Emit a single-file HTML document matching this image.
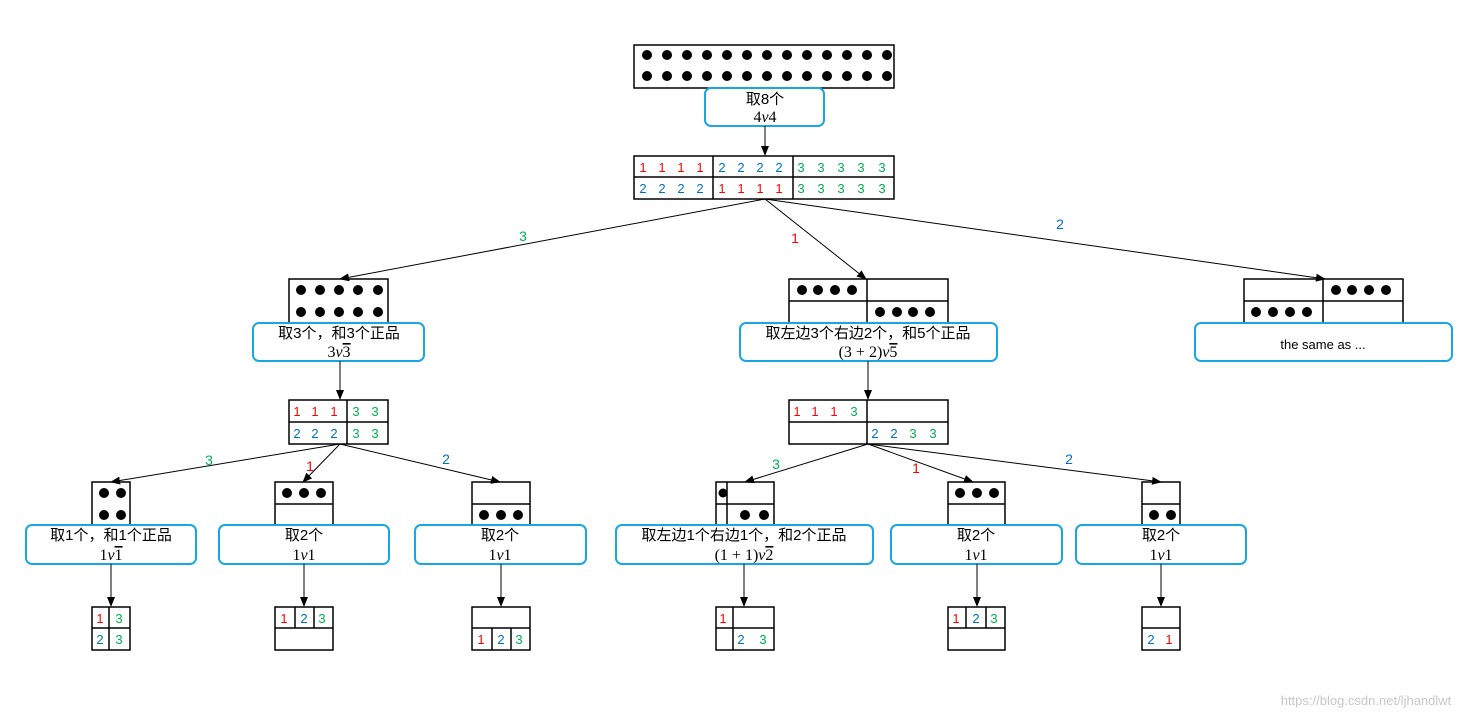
<!DOCTYPE html>
<html><head><meta charset="utf-8"><style>
html,body{margin:0;padding:0;background:#fff;}
svg{display:block;}
.t{font-family:"Liberation Sans","Noto Sans CJK SC",sans-serif;}
.m{font-family:"Liberation Serif","Noto Serif CJK SC",serif;}
.r{fill:#ff0000}.b{fill:#0070c0}.g{fill:#00b050}
</style></head><body>
<svg width="1474" height="718" viewBox="0 0 1474 718" xmlns="http://www.w3.org/2000/svg">
<defs><marker id="a" markerWidth="10" markerHeight="10" refX="9" refY="5" orient="auto" markerUnits="userSpaceOnUse"><path d="M0,1 L10,5 L0,9 z" fill="#000"/></marker></defs>
<rect width="1474" height="718" fill="#fff"/>
<g fill="none" stroke="#000" stroke-width="1.5">
<rect x="634" y="45" width="260" height="43"/>
<rect x="634" y="156" width="260" height="43"/><line x1="634" y1="177" x2="894" y2="177"/><line x1="713" y1="156" x2="713" y2="199"/><line x1="793" y1="156" x2="793" y2="199"/>
<rect x="289" y="279" width="99" height="44"/>
<rect x="789" y="279" width="159" height="44"/><line x1="789" y1="301" x2="948" y2="301"/><line x1="867" y1="279" x2="867" y2="323"/>
<rect x="1244" y="279" width="159" height="44"/><line x1="1244" y1="301" x2="1403" y2="301"/><line x1="1323" y1="279" x2="1323" y2="323"/>
<rect x="289" y="400" width="99" height="44"/><line x1="289" y1="422" x2="388" y2="422"/><line x1="347" y1="400" x2="347" y2="444"/>
<rect x="789" y="400" width="159" height="44"/><line x1="789" y1="422" x2="948" y2="422"/><line x1="867" y1="400" x2="867" y2="444"/>
<rect x="92" y="482" width="38" height="43"/>
<rect x="275" y="482" width="58" height="43"/><line x1="275" y1="504" x2="333" y2="504"/>
<rect x="472" y="482" width="58" height="43"/><line x1="472" y1="504" x2="530" y2="504"/>
<rect x="716" y="482" width="58" height="43"/><line x1="716" y1="504" x2="774" y2="504"/><line x1="727" y1="482" x2="727" y2="525"/>
<rect x="948" y="482" width="57" height="43"/><line x1="948" y1="504" x2="1005" y2="504"/>
<rect x="1142" y="482" width="38" height="43"/><line x1="1142" y1="504" x2="1180" y2="504"/>
<rect x="92" y="607" width="38" height="43"/><line x1="92" y1="628" x2="130" y2="628"/><line x1="109" y1="607" x2="109" y2="650"/>
<rect x="275" y="607" width="58" height="43"/><line x1="275" y1="628" x2="333" y2="628"/><line x1="295" y1="607" x2="295" y2="628"/><line x1="314" y1="607" x2="314" y2="628"/>
<rect x="472" y="607" width="58" height="43"/><line x1="472" y1="628" x2="530" y2="628"/><line x1="492" y1="628" x2="492" y2="650"/><line x1="511" y1="628" x2="511" y2="650"/>
<rect x="716" y="607" width="58" height="43"/><line x1="716" y1="628" x2="774" y2="628"/><line x1="733" y1="607" x2="733" y2="650"/>
<rect x="948" y="607" width="57" height="43"/><line x1="948" y1="628" x2="1005" y2="628"/><line x1="966" y1="607" x2="966" y2="628"/><line x1="986" y1="607" x2="986" y2="628"/>
<rect x="1142" y="607" width="38" height="43"/><line x1="1142" y1="628" x2="1180" y2="628"/>
</g>
<g fill="#fff" stroke="#1aa7e0" stroke-width="2">
<rect x="705" y="88" width="119" height="38" rx="6"/>
<rect x="253" y="323" width="171" height="38" rx="6"/>
<rect x="740" y="323" width="257" height="38" rx="6"/>
<rect x="1195" y="323" width="257" height="38" rx="6"/>
<rect x="26" y="525" width="170" height="39" rx="6"/>
<rect x="219" y="525" width="170" height="39" rx="6"/>
<rect x="415" y="525" width="171" height="39" rx="6"/>
<rect x="616" y="525" width="257" height="39" rx="6"/>
<rect x="891" y="525" width="171" height="39" rx="6"/>
<rect x="1076" y="525" width="170" height="39" rx="6"/>
</g>
<g stroke="#000" stroke-width="1" marker-end="url(#a)">
<line x1="765" y1="126" x2="765" y2="155"/>
<line x1="765" y1="199" x2="340" y2="279"/>
<line x1="765" y1="199" x2="866" y2="279"/>
<line x1="765" y1="199" x2="1325" y2="279"/>
<line x1="340" y1="361" x2="340" y2="399"/>
<line x1="868" y1="361" x2="868" y2="399"/>
<line x1="340" y1="444" x2="111" y2="482"/>
<line x1="340" y1="444" x2="303" y2="482"/>
<line x1="340" y1="444" x2="500" y2="482"/>
<line x1="868" y1="444" x2="745" y2="482"/>
<line x1="868" y1="444" x2="973" y2="482"/>
<line x1="868" y1="444" x2="1161" y2="482"/>
<line x1="111" y1="564" x2="111" y2="606"/>
<line x1="304" y1="564" x2="304" y2="606"/>
<line x1="501" y1="564" x2="501" y2="606"/>
<line x1="744" y1="564" x2="744" y2="606"/>
<line x1="977" y1="564" x2="977" y2="606"/>
<line x1="1161" y1="564" x2="1161" y2="606"/>
</g>
<g fill="#000">
<circle cx="647" cy="55" r="5"/><circle cx="667" cy="55" r="5"/><circle cx="687" cy="55" r="5"/><circle cx="707" cy="55" r="5"/><circle cx="727" cy="55" r="5"/><circle cx="747" cy="55" r="5"/><circle cx="767" cy="55" r="5"/><circle cx="787" cy="55" r="5"/><circle cx="807" cy="55" r="5"/><circle cx="827" cy="55" r="5"/><circle cx="847" cy="55" r="5"/><circle cx="867" cy="55" r="5"/><circle cx="887" cy="55" r="5"/>
<circle cx="647" cy="76" r="5"/><circle cx="667" cy="76" r="5"/><circle cx="687" cy="76" r="5"/><circle cx="707" cy="76" r="5"/><circle cx="727" cy="76" r="5"/><circle cx="747" cy="76" r="5"/><circle cx="767" cy="76" r="5"/><circle cx="787" cy="76" r="5"/><circle cx="807" cy="76" r="5"/><circle cx="827" cy="76" r="5"/><circle cx="847" cy="76" r="5"/><circle cx="867" cy="76" r="5"/><circle cx="887" cy="76" r="5"/>
<circle cx="301" cy="290" r="5"/><circle cx="320" cy="290" r="5"/><circle cx="339" cy="290" r="5"/><circle cx="358" cy="290" r="5"/><circle cx="378" cy="290" r="5"/>
<circle cx="301" cy="312" r="5"/><circle cx="320" cy="312" r="5"/><circle cx="339" cy="312" r="5"/><circle cx="358" cy="312" r="5"/><circle cx="378" cy="312" r="5"/>
<circle cx="802" cy="290" r="5"/><circle cx="818" cy="290" r="5"/><circle cx="835" cy="290" r="5"/><circle cx="852" cy="290" r="5"/>
<circle cx="880" cy="312" r="5"/><circle cx="897" cy="312" r="5"/><circle cx="913" cy="312" r="5"/><circle cx="930" cy="312" r="5"/>
<circle cx="1336" cy="290" r="5"/><circle cx="1352" cy="290" r="5"/><circle cx="1369" cy="290" r="5"/><circle cx="1386" cy="290" r="5"/>
<circle cx="1256" cy="312" r="5"/><circle cx="1273" cy="312" r="5"/><circle cx="1290" cy="312" r="5"/><circle cx="1307" cy="312" r="5"/>
<circle cx="104" cy="493" r="5"/><circle cx="121" cy="493" r="5"/><circle cx="104" cy="515" r="5"/><circle cx="121" cy="515" r="5"/>
<circle cx="287" cy="493" r="5"/><circle cx="304" cy="493" r="5"/><circle cx="321" cy="493" r="5"/>
<circle cx="484" cy="515" r="5"/><circle cx="501" cy="515" r="5"/><circle cx="518" cy="515" r="5"/>
<circle cx="723" cy="493" r="4.5"/><circle cx="745" cy="515" r="5"/><circle cx="764" cy="515" r="5"/>
<circle cx="960" cy="493" r="5"/><circle cx="977" cy="493" r="5"/><circle cx="994" cy="493" r="5"/>
<circle cx="1154" cy="515" r="5"/><circle cx="1171" cy="515" r="5"/>
</g>
<g class="t" font-size="13" text-anchor="middle">
<text x="643" y="172" class="r">1</text><text x="662" y="172" class="r">1</text><text x="681" y="172" class="r">1</text><text x="700" y="172" class="r">1</text>
<text x="722" y="172" class="b">2</text><text x="741" y="172" class="b">2</text><text x="760" y="172" class="b">2</text><text x="779" y="172" class="b">2</text>
<text x="801" y="172" class="g">3</text><text x="821" y="172" class="g">3</text><text x="841" y="172" class="g">3</text><text x="861" y="172" class="g">3</text><text x="882" y="172" class="g">3</text>
<text x="643" y="193" class="b">2</text><text x="662" y="193" class="b">2</text><text x="681" y="193" class="b">2</text><text x="700" y="193" class="b">2</text>
<text x="722" y="193" class="r">1</text><text x="741" y="193" class="r">1</text><text x="760" y="193" class="r">1</text><text x="779" y="193" class="r">1</text>
<text x="801" y="193" class="g">3</text><text x="821" y="193" class="g">3</text><text x="841" y="193" class="g">3</text><text x="861" y="193" class="g">3</text><text x="882" y="193" class="g">3</text>
<text x="297" y="416" class="r">1</text><text x="315" y="416" class="r">1</text><text x="334" y="416" class="r">1</text><text x="356" y="416" class="g">3</text><text x="375" y="416" class="g">3</text>
<text x="297" y="438" class="b">2</text><text x="315" y="438" class="b">2</text><text x="334" y="438" class="b">2</text><text x="356" y="438" class="g">3</text><text x="375" y="438" class="g">3</text>
<text x="797" y="416" class="r">1</text><text x="815" y="416" class="r">1</text><text x="834" y="416" class="r">1</text><text x="854" y="416" class="g">3</text>
<text x="875" y="438" class="b">2</text><text x="894" y="438" class="b">2</text><text x="913" y="438" class="g">3</text><text x="933" y="438" class="g">3</text>
<text x="100" y="623" class="r">1</text><text x="119" y="623" class="g">3</text><text x="100" y="644" class="b">2</text><text x="119" y="644" class="g">3</text>
<text x="284" y="623" class="r">1</text><text x="304" y="623" class="b">2</text><text x="322" y="623" class="g">3</text>
<text x="481" y="644" class="r">1</text><text x="501" y="644" class="b">2</text><text x="519" y="644" class="g">3</text>
<text x="723" y="623" class="r">1</text><text x="741" y="644" class="b">2</text><text x="763" y="644" class="g">3</text>
<text x="956" y="623" class="r">1</text><text x="976" y="623" class="b">2</text><text x="994" y="623" class="g">3</text>
<text x="1151" y="644" class="b">2</text><text x="1169" y="644" class="r">1</text>
</g>
<g class="t" font-size="14" text-anchor="middle">
<text x="523" y="241" class="g">3</text><text x="795" y="243" class="r">1</text><text x="1060" y="229" class="b">2</text>
<text x="209" y="465" class="g">3</text><text x="310" y="471" class="r">1</text><text x="446" y="464" class="b">2</text>
<text x="776" y="469" class="g">3</text><text x="916" y="473" class="r">1</text><text x="1069" y="464" class="b">2</text>
</g>
<g class="t" font-size="15" text-anchor="middle">
<text x="765" y="104">取8个</text>
<text x="339" y="338">取3个，和3个正品</text>
<text x="868" y="338">取左边3个右边2个，和5个正品</text>
<text x="1323" y="349" font-size="13">the same as ...</text>
<text x="111" y="540">取1个，和1个正品</text>
<text x="304" y="540">取2个</text>
<text x="500" y="540">取2个</text>
<text x="744" y="540">取左边1个右边1个，和2个正品</text>
<text x="976" y="540">取2个</text>
<text x="1161" y="540">取2个</text>
</g>
<g class="m" font-size="16" text-anchor="middle">
<text x="765" y="122">4<tspan font-style="italic">v</tspan>4</text>
<text x="339" y="357">3<tspan font-style="italic">v</tspan><tspan text-decoration="overline">3</tspan></text>
<text x="868" y="357">(3 + 2)<tspan font-style="italic">v</tspan><tspan text-decoration="overline">5</tspan></text>
<text x="111" y="560">1<tspan font-style="italic">v</tspan><tspan text-decoration="overline">1</tspan></text>
<text x="304" y="560">1<tspan font-style="italic">v</tspan>1</text>
<text x="500" y="560">1<tspan font-style="italic">v</tspan>1</text>
<text x="744" y="560">(1 + 1)<tspan font-style="italic">v</tspan><tspan text-decoration="overline">2</tspan></text>
<text x="976" y="560">1<tspan font-style="italic">v</tspan>1</text>
<text x="1161" y="560">1<tspan font-style="italic">v</tspan>1</text>
</g>
<text x="1366" y="705" class="t" font-size="13" fill="#c8c8c8" text-anchor="middle">https://blog.csdn.net/ljhandlwt</text>
</svg>
</body></html>
